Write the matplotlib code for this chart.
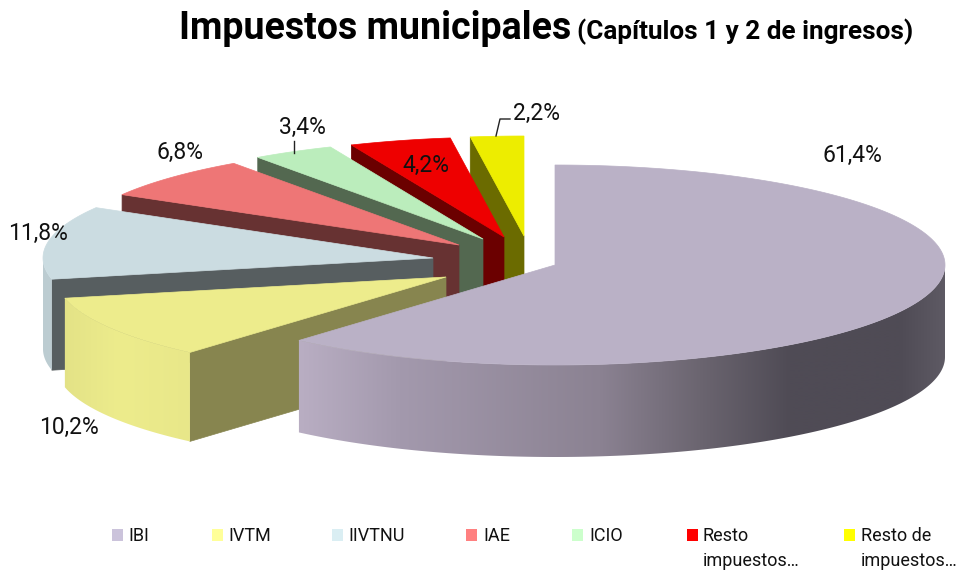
import numpy as np
import matplotlib
matplotlib.use('Agg')
import matplotlib.pyplot as plt
from matplotlib.colors import to_rgb
from matplotlib.patches import Polygon, Rectangle

plt.rcParams['font.family'] = ['Roboto', 'Liberation Sans', 'DejaVu Sans']

names = ['IBI', 'IVTM', 'IIVTNU', 'IAE', 'ICIO', 'Resto\nimpuestos…', 'Resto de\nimpuestos…']
values = [61.4, 10.2, 11.8, 6.8, 3.4, 4.2, 2.2]
value_labels = ['61,4%', '10,2%', '11,8%', '6,8%', '3,4%', '4,2%', '2,2%']

top_colors = ['#bab1c6', '#edec8c', '#cbdce1', '#ee7676', '#bbedbc', '#ee0000', '#eded00']
cut_colors = ['#4f4b55', '#87854f', '#575e60', '#673232', '#536850', '#6b0000', '#6b6b00']
legend_colors = ['#cbc3db', '#ffff99', '#daeef3', '#ff8080', '#ccffcc', '#ff0000', '#ffff00']

# pie geometry in pixels
cx, cy = 555, 265
rx, ry = 390, 100
depths = [92, 89, 91, 92, 92, 92, 92]
offsets = [(0, 0), (-109, 12), (-122, -7), (-96, -20), (-72, -26), (-51, -28), (-31, -29)]

label_pos = [(852, 155), (69, 427), (38, 233), (180, 152), (302, 127), (426, 165), (537, 113)]
legend_sq = [112, 212, 332, 466, 572, 687, 844]
legend_tx = [128, 228, 348, 483, 589, 703, 861]


def wall_color(i, x):
    # the big slice goes dark to the right, the others stay close to their top colour
    if i == 0:
        xs = [299, 400, 600, 700, 790, 900, 945]
        stops = [to_rgb(c) for c in ['#b9aec3', '#a399ad', '#8b8292', '#6b6570', '#4f4b55', '#4f4b55', '#5e5a64']]
        return [np.interp(x, xs, [s[k] for s in stops]) for k in range(3)]
    top = np.array(to_rgb(top_colors[i]))
    if i == 1:
        return top * np.interp(x, [65, 120, 189], [0.96, 1.0, 0.98])
    return top * 0.93


def draw_slice(ax, i, a0, a1, z):
    ox, oy = cx + offsets[i][0], cy + offsets[i][1]
    depth = depths[i]
    ang = np.radians(np.linspace(a0, a1, 300))
    xs = ox + rx * np.cos(ang)
    ys = oy - ry * np.sin(ang)

    # flat cut face on the start side of the slice (not visible for the first one)
    if i > 0:
        face = [(ox, oy), (xs[0], ys[0]), (xs[0], ys[0] + depth), (ox, oy + depth)]
        ax.add_patch(Polygon(face, fc=cut_colors[i], ec=cut_colors[i], lw=0.5, zorder=z))

    # outer wall, only the part facing the viewer, gradient clipped to its outline
    front = np.sin(ang) < 0
    if front.any():
        fx, fy = xs[front], ys[front]
        outline = np.column_stack([np.r_[fx, fx[::-1]], np.r_[fy, fy[::-1] + depth]])
        grad_x = np.arange(int(fx.min()) - 1, int(fx.max()) + 2)
        grad = np.array([[wall_color(i, x) for x in grad_x]])
        im = ax.imshow(grad, extent=[grad_x[0], grad_x[-1], fy.max() + depth + 2, fy.min() - 2],
                       aspect='auto', interpolation='bilinear', zorder=z + 0.1)
        im.set_clip_path(Polygon(outline, transform=ax.transData))

    top = np.column_stack([np.r_[ox, xs], np.r_[oy, ys]])
    ax.add_patch(Polygon(top, fc=top_colors[i], ec=top_colors[i], lw=0.5, zorder=z + 0.2))


def main():
    fig = plt.figure(figsize=(9.6, 5.73), dpi=100)
    ax = fig.add_axes([0, 0, 1, 1])

    # clockwise from 12 o'clock
    edges = 90 - np.r_[0, np.cumsum(values)] / sum(values) * 360
    for z, i in enumerate(reversed(range(len(values)))):
        draw_slice(ax, i, edges[i], edges[i + 1], z + 1)

    ax.set_xlim(0, 960)
    ax.set_ylim(573, 0)
    ax.axis('off')

    for lab, (x, y) in zip(value_labels, label_pos):
        ax.text(x, y, lab, fontsize=16.5, ha='center', va='center', color='#111111', zorder=20)

    # leader lines
    ax.plot([294, 294], [141, 153], color='#222222', lw=1, zorder=20)
    ax.plot([496, 500, 510], [136, 119, 119], color='#222222', lw=1, zorder=20)

    ax.text(179, 39, 'Impuestos municipales', fontsize=27, fontweight='bold', ha='left', va='baseline')
    ax.text(577, 39, '(Capítulos 1 y 2 de ingresos)', fontsize=18.8, fontweight='bold', ha='left', va='baseline')

    for name, c, sx, tx in zip(names, legend_colors, legend_sq, legend_tx):
        ax.add_patch(Rectangle((sx, 529), 11, 12, fc=c, ec='none'))
        lines = name.split('\n')
        ax.text(tx, 541, lines[0], fontsize=13, ha='left', va='baseline', color='#111111')
        if len(lines) > 1:
            ax.text(tx, 566, lines[1], fontsize=13, ha='left', va='baseline', color='#111111')

    fig.savefig('out.png', dpi=100)


if __name__ == '__main__':
    main()
